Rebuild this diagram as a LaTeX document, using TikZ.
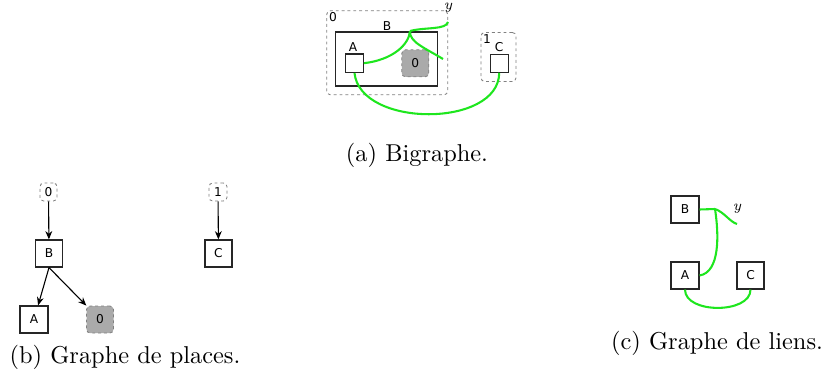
\documentclass[tikz,border=0pt]{standalone}
\usepackage{fontspec}
\newfontfamily\lblfont{DejaVu Sans}
\usetikzlibrary{arrows.meta}
\definecolor{lnk}{RGB}{30,230,30}
\definecolor{sitegray}{RGB}{170,170,170}
\newlength\pxu
\setlength\pxu{0.41pt}
\begin{document}
\begin{tikzpicture}[x=0.41pt,y=-0.41pt,
  lbl/.style={font=\lblfont\fontsize{5}{6}\selectfont, inner sep=0pt},
  ctrl/.style={draw=black!85, line width=0.5pt, fill=white, inner sep=0pt, font=\lblfont\fontsize{5}{6}\selectfont},
  rootbox/.style={draw=gray, dash pattern=on 1.2pt off 1.2pt, line width=0.35pt, rounded corners=1.5pt, inner sep=0pt, font=\lblfont\fontsize{5}{6}\selectfont},
  sitebox/.style={rootbox, fill=sitegray},
  link/.style={draw=lnk, line width=0.85pt},
  edgearrow/.style={draw=black, line width=0.45pt, -{Stealth[length=3.4pt,width=2.8pt]}},
  captext/.style={font=\normalsize, inner sep=0pt},
  namelbl/.style={font=\fontsize{6}{7}\selectfont\itshape, inner sep=0pt}]
\useasboundingbox (0,0) rectangle (823,379);
% ---------- (a) Bigraphe ----------
\node[rootbox, minimum width=121\pxu, minimum height=84\pxu] (r0) at (387.2,52.8) {};
\node[lbl] (r0l) at (333,17) {0};
\node[ctrl, minimum width=102\pxu, minimum height=54\pxu] (B) at (386.7,59) {};
\node[lbl] (Bl) at (387,26) {B};
\node[ctrl, minimum width=17.6\pxu, minimum height=18.3\pxu] (A) at (354.5,63.2) {};
\node[lbl] (Al) at (353,47) {A};
\node[sitebox, minimum width=27\pxu, minimum height=27\pxu] (s0) at (415.3,63.3) {0};
\node[rootbox, minimum width=35\pxu, minimum height=49\pxu] (r1) at (498.5,57) {};
\node[lbl] (r1l) at (487,39) {1};
\node[ctrl, minimum width=18\pxu, minimum height=18\pxu] (C) at (499.2,63.2) {};
\node[lbl] (Cl) at (499,47) {C};
\node[namelbl] (ya) at (448,8) {y};
\coordinate (ja) at (410,31);
\coordinate (yend) at (448,22);
\coordinate (bport) at (443,59);
\draw[link] (A.east) .. controls (392,60) and (409,45) .. (ja);
\draw[link] (ja) .. controls (425,27) and (446,30) .. (yend);
\draw[link] (ja) .. controls (409,42) and (425,48) .. (bport);
\draw[link] (A.south) .. controls (360,128) and (499,128) .. (C.south);
\node[captext] (capa) at (417,155) {(a) Bigraphe.};
% ---------- (b) Graphe de places ----------
\node[rootbox, minimum width=17\pxu, minimum height=18\pxu] (r0b) at (48.5,192) {0};
\node[ctrl, minimum width=27\pxu, minimum height=27\pxu] (Bb) at (49,253.5) {B};
\node[ctrl, minimum width=28\pxu, minimum height=27\pxu] (Ab) at (34,319.5) {A};
\node[sitebox, minimum width=27\pxu, minimum height=27\pxu] (s0b) at (100,319.5) {0};
\node[rootbox, minimum width=18\pxu, minimum height=18\pxu] (r1b) at (218,192) {1};
\node[ctrl, minimum width=27\pxu, minimum height=27\pxu] (Cb) at (218.5,253.5) {C};
\draw[edgearrow] (r0b) -- (Bb);
\draw[edgearrow] (Bb.south) -- (Ab);
\draw[edgearrow] (Bb.south) -- (s0b);
\draw[edgearrow] (r1b) -- (Cb);
\node[captext] (capb) at (125,357) {(b) Graphe de places.};
% ---------- (c) Graphe de liens ----------
\node[ctrl, minimum width=28\pxu, minimum height=27\pxu] (Bc) at (685,209.5) {B};
\node[ctrl, minimum width=28\pxu, minimum height=27\pxu] (Ac) at (685,275.5) {A};
\node[ctrl, minimum width=27\pxu, minimum height=27\pxu] (Cc) at (750.5,275.5) {C};
\node[namelbl] (yc) at (737,209) {y};
\coordinate (jc) at (715,209);
\coordinate (ycend) at (737,224);
\draw[link] (Bc.east) -- (jc);
\draw[link] (jc) .. controls (719,235) and (720,272) .. (Ac.east);
\draw[link] (jc) .. controls (724,212) and (730,222) .. (ycend);
\draw[link] (Ac.south) .. controls (685,314) and (750.5,314) .. (Cc.south);
\node[captext] (capc) at (717,343) {(c) Graphe de liens.};
\end{tikzpicture}
\end{document}
